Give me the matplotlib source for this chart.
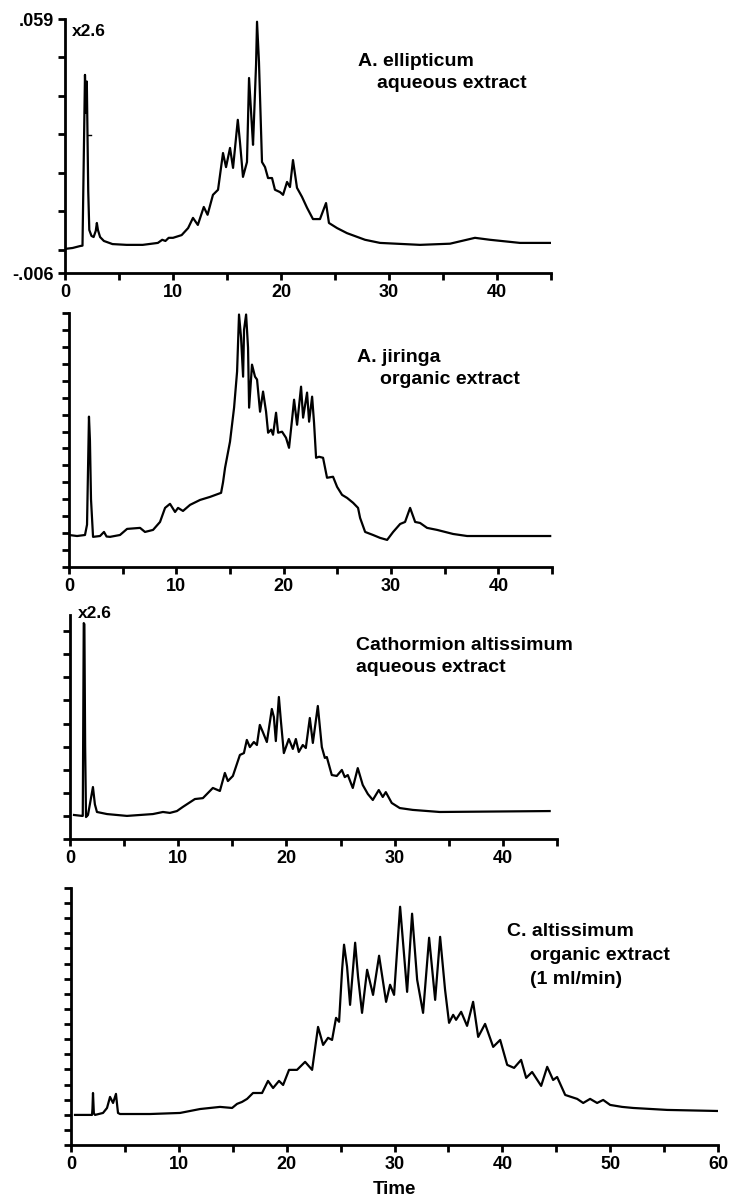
import matplotlib
matplotlib.use("Agg")
import matplotlib.pyplot as plt

plt.rcParams['font.family'] = ['Liberation Sans', 'DejaVu Sans']
plt.rcParams['font.weight'] = 'bold'

# ---------------- Panel A: A. ellipticum aqueous extract (absorbance) ----------------
t_ell = [0.1, 0.7, 1.4, 1.62, 1.72, 1.85, 1.95, 2.02, 2.15, 2.25, 2.45, 2.65, 2.85, 2.95, 3.05,
         3.25, 3.6, 4.4, 5.7, 7.2, 8.6, 9.0, 9.3, 9.6, 10.0, 10.8, 11.4, 11.85, 12.3, 12.85,
         13.2, 13.7, 14.17, 14.63, 14.91, 15.28, 15.56, 16.0, 16.2, 16.48, 16.85, 17.04, 17.3,
         17.41, 17.69, 17.78, 17.96, 18.24, 18.52, 18.8, 19.17, 19.44, 19.91, 20.19, 20.56,
         20.83, 21.11, 21.48, 21.94, 22.41, 22.96, 23.61, 24.17, 24.44, 25.19, 26.11, 27.78,
         29.17, 32.87, 35.65, 37.96, 39.35, 42.13, 45.0]
a_ell = [0.0002, 0.0004, 0.0009, 0.0010, 0.0200, 0.0447, 0.0350, 0.0430, 0.0150, 0.0050, 0.0035,
         0.0032, 0.0048, 0.0068, 0.0050, 0.0032, 0.0022, 0.0014, 0.0012, 0.0012, 0.0017, 0.0025,
         0.0022, 0.0030, 0.0030, 0.0037, 0.0055, 0.0081, 0.0063, 0.0109, 0.0089, 0.0140, 0.0153,
         0.0247, 0.0211, 0.0260, 0.0209, 0.0332, 0.0275, 0.0186, 0.0224, 0.0439, 0.0319, 0.0268,
         0.0473, 0.0583, 0.0480, 0.0224, 0.0211, 0.0183, 0.0183, 0.0153, 0.0147, 0.0140, 0.0173,
         0.0160, 0.0229, 0.0158, 0.0135, 0.0107, 0.0078, 0.0078, 0.0119, 0.0068, 0.0055, 0.0042,
         0.0025, 0.0017, 0.0012, 0.0015, 0.0030, 0.0025, 0.0017, 0.0017]
mark_t = [2.1, 2.4]
mark_a = [0.0293, 0.0293]
ell_yticks = [-0.006, 0.0, 0.00983, 0.01967, 0.0295, 0.03933, 0.04917, 0.059]
ell_ylabels = ['-.006', '', '', '', '', '', '', '.059']

# ---------------- Panel B: A. jiringa organic extract ----------------
t_jir = [0.0, 0.75, 1.49, 1.68, 1.86, 1.95, 2.05, 2.24, 2.89, 3.26, 3.5, 3.82, 4.75, 5.41, 6.62,
         7.08, 7.83, 8.48, 8.95, 9.41, 9.88, 10.16, 10.62, 11.28, 12.21, 13.14, 14.17, 14.35,
         14.54, 15.0, 15.38, 15.66, 15.84, 16.03, 16.22, 16.31, 16.5, 16.68, 16.78, 17.05, 17.33,
         17.52, 17.8, 18.08, 18.36, 18.55, 18.83, 19.01, 19.29, 19.48, 19.85, 20.22, 20.5, 20.78,
         20.97, 21.25, 21.62, 21.81, 22.18, 22.37, 22.65, 22.83, 23.02, 23.3, 23.67, 24.04, 24.6,
         24.98, 25.44, 25.91, 26.47, 26.93, 27.12, 27.59, 28.33, 28.98, 29.64, 30.2, 30.85, 31.31,
         31.78, 32.25, 32.71, 33.36, 34.3, 35.79, 37.09, 44.83]
a_jir = [1.89, 1.83, 1.89, 2.5, 8.88, 7.5, 4.0, 1.78, 1.83, 2.07, 1.8, 1.78, 1.89, 2.25, 2.31,
         2.07, 2.19, 2.66, 3.49, 3.73, 3.25, 3.49, 3.31, 3.67, 3.96, 4.14, 4.38, 5.0,
         5.86, 7.4, 9.41, 11.54, 14.91, 13.55, 11.24, 14.02, 14.91, 12.96, 9.41, 11.95, 11.24,
         11.07, 9.17, 10.36, 9.17, 7.93, 8.11, 7.81, 9.11, 7.93, 7.99, 7.63, 7.04, 8.7,
         9.88, 8.4, 10.65, 8.82, 10.3, 8.58, 10.06, 8.52, 6.45, 6.51, 6.45, 5.27, 5.33,
         4.73, 4.26, 4.08, 3.79, 3.49, 2.9, 2.07, 1.89, 1.72, 1.6, 2.07, 2.54, 2.66,
         3.49, 2.66, 2.6, 2.31, 2.19, 1.95, 1.83, 1.83]

# ---------------- Panel C: Cathormion altissimum aqueous extract ----------------
t_cath = [0.37, 1.11, 1.18, 1.27, 1.33, 1.40, 1.48, 1.66, 1.95, 2.12, 2.3, 2.49, 3.42, 5.26, 7.66,
          8.59, 9.23, 9.88, 10.43, 11.54, 12.28, 13.2, 13.85, 14.31, 14.59, 15.05, 15.7, 16.07,
          16.34, 16.62, 16.99, 17.27, 17.54, 17.82, 18.19, 18.65, 18.84, 19.02, 19.3, 19.48,
          19.76, 20.22, 20.59, 20.87, 21.14, 21.51, 21.79, 22.16, 22.44, 22.9, 23.27, 23.55,
          23.73, 24.19, 24.65, 25.12, 25.39, 25.67, 26.13, 26.59, 27.05, 27.52, 27.98, 28.53,
          28.9, 29.18, 29.73, 30.47, 31.67, 34.16, 44.32]
a_cath = [1.04, 1.0, 1.0, 9.35, 9.3, 4.0, 0.95, 1.04, 1.8, 2.25, 1.5, 1.17, 1.08, 1.0, 1.08,
          1.17, 1.13, 1.21, 1.39, 1.73, 1.77, 2.21, 2.08, 2.86, 2.51, 2.73, 3.64, 3.72,
          4.29, 3.98, 4.2, 4.07, 4.94, 4.63, 4.2, 5.63, 5.28, 4.24, 6.15, 5.15,
          3.72, 4.33, 3.9, 4.33, 3.77, 4.07, 3.94, 5.24, 4.16, 5.76, 3.98, 3.51,
          3.55, 2.77, 2.73, 2.99, 2.68, 2.77, 2.21, 3.07, 2.34, 1.95, 1.69, 2.12,
          1.82, 2.03, 1.56, 1.34, 1.26, 1.17, 1.21]

# ---------------- Panel D: C. altissimum organic extract (1 ml/min) ----------------
t_calt = [0.37, 1.48, 1.95, 1.99, 2.04, 2.12, 2.23, 2.97, 3.34, 3.62, 3.9, 4.17, 4.3, 4.36, 4.55,
          7.33, 10.11, 11.97, 13.82, 14.94, 15.4, 15.86, 16.33, 16.88, 17.72, 18.27, 18.74,
          19.29, 19.67, 20.22, 20.96, 21.71, 22.36, 22.91, 23.38, 23.84, 24.21, 24.58, 24.86,
          25.14, 25.32, 25.6, 25.88, 26.35, 26.62, 26.99, 27.46, 28.01, 28.57, 29.22, 29.59,
          29.96, 30.52, 31.17, 31.63, 32.1, 32.65, 33.21, 33.77, 34.23, 34.69, 35.06, 35.44,
          35.71, 36.18, 36.73, 37.29, 37.76, 38.4, 39.15, 39.8, 40.45, 41.09, 41.74, 42.21,
          42.76, 43.6, 44.16, 44.71, 45.08, 45.83, 46.94, 47.5, 48.14, 48.79, 49.35, 50.0,
          51.11, 52.13, 55.29, 60.0]
a_calt = [1.99, 1.99, 1.99, 2.4, 3.44, 2.1, 1.99, 2.12, 2.45, 3.18, 2.78, 3.38, 2.5, 2.12, 2.05,
          2.05, 2.12, 2.38, 2.52, 2.45, 2.72, 2.85, 3.05, 3.44, 3.44, 4.24, 3.77,
          4.24, 3.97, 4.97, 4.97, 5.5, 4.97, 7.81, 6.62, 7.09, 6.95, 8.41, 8.15,
          11.59, 13.25, 11.79, 9.27, 13.38, 11.13, 8.74, 11.59, 9.93, 12.52, 9.47, 10.6,
          9.93, 15.76, 10.13, 15.3, 10.93, 8.74, 13.71, 9.6, 13.77, 10.26, 8.08, 8.61,
          8.28, 8.81, 7.88, 9.47, 7.15, 8.01, 6.49, 6.95, 5.3, 5.1, 5.63, 4.44,
          4.83, 3.91, 5.17, 4.3, 4.5, 3.31, 3.05, 2.78, 3.05, 2.78, 2.98, 2.65,
          2.52, 2.45, 2.32, 2.25]

W, H = 729, 1203
fig = plt.figure(figsize=(W / 100, H / 100), dpi=100)


def px_axes(left, top, right, bottom):
    return fig.add_axes([left / W, 1 - bottom / H, (right - left) / W, (bottom - top) / H])


LW = 1.6
TICKFONT = 13
LABFONT = 14


def style(ax, xmax, ymin, ymax, yticks, ylabels=None):
    for s in ('top', 'right'):
        ax.spines[s].set_visible(False)
    for s in ('left', 'bottom'):
        ax.spines[s].set_linewidth(2.0)
    ax.set_xlim(0, xmax)
    ax.set_ylim(ymin, ymax)
    ax.set_xticks(range(0, xmax + 1, 5))
    ax.set_xticklabels([str(v) if v % 10 == 0 else '' for v in range(0, xmax + 1, 5)],
                       fontsize=TICKFONT, fontweight='bold')
    ax.set_yticks(yticks)
    if ylabels is None:
        ax.set_yticklabels([''] * len(yticks))
    else:
        ax.set_yticklabels(ylabels, fontsize=TICKFONT, fontweight='bold')
    ax.tick_params(axis='both', direction='out', length=5, width=2.0, pad=3)


def label(x, y, s, size=LABFONT):
    fig.text(x / W, 1 - y / H, s, fontsize=size, fontweight='bold', va='center', ha='left')


# Panel A
ax1 = px_axes(65, 19, 551, 273)
ax1.plot(t_ell, a_ell, color='black', lw=LW)
ax1.plot(mark_t, mark_a, color='black', lw=1.0)
style(ax1, 45, -0.006, 0.059, ell_yticks, ell_ylabels)
label(72, 31, 'x2.6', 12.5)
label(358, 62, 'A. ellipticum')
label(377, 84, 'aqueous extract')

# Panel B
ax2 = px_axes(69, 313, 552, 567)
ax2.plot(t_jir, a_jir, color='black', lw=LW)
style(ax2, 45, 0, 15, list(range(0, 16)))
label(357, 357, 'A. jiringa')
label(380, 380, 'organic extract')

# Panel C
ax3 = px_axes(70, 615, 557, 839)
ax3.plot(t_cath, a_cath, color='black', lw=LW)
style(ax3, 45, 0, 9.7, list(range(0, 10)))
label(78, 614, 'x2.6', 12.5)
label(356, 645, 'Cathormion altissimum')
label(356, 668, 'aqueous extract')

# Panel D
ax4 = px_axes(71, 888, 718, 1145)
ax4.plot(t_calt, a_calt, color='black', lw=LW)
style(ax4, 60, 0, 17, list(range(0, 18)))
ax4.set_xlabel('Time', fontsize=13.5, fontweight='bold', labelpad=6)
label(507, 931, 'C. altissimum')
label(530, 955, 'organic extract')
label(530, 979, '(1 ml/min)')

fig.savefig('out.png', dpi=100)
